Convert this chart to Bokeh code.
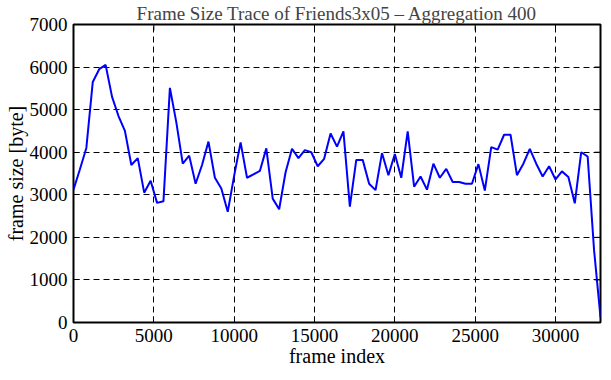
import math
from bokeh.plotting import figure
from bokeh.models import FixedTicker, Range1d, BasicTickFormatter, Title
from bokeh.embed import file_html
from bokeh.resources import INLINE

# ---- data ----
step = 400
frame_size = [
    3120, 3600, 4100, 5650, 5950, 6050, 5300, 4850, 4500, 3700,
    3860, 3050, 3330, 2810, 2850, 5510, 4700, 3730, 3920, 3260,
    3700, 4250, 3400, 3150, 2600, 3450, 4230, 3400, 3480, 3560,
    4090, 2910, 2660, 3530, 4080, 3860, 4050, 4000, 3670, 3845,
    4440, 4130, 4490, 2720, 3820, 3820, 3260, 3110, 3980, 3460,
    3960, 3400, 4490, 3190, 3430, 3120, 3730, 3400, 3610, 3300,
    3300, 3260, 3260, 3720, 3100, 4120, 4060, 4410, 4410, 3460,
    3730, 4080, 3730, 3430, 3670, 3360, 3550, 3420, 2800, 4000,
    3900, 1700, 120,
]
frame_index = [i * step for i in range(len(frame_size))]
x_ticks = [0, 5000, 10000, 15000, 20000, 25000, 30000]
y_ticks = [0, 1000, 2000, 3000, 4000, 5000, 6000, 7000]
x_max = 32800
y_max = 7000

FONT = "Liberation Serif"

p = figure(
    width=603, height=372,
    output_backend="svg", toolbar_location=None,
    x_range=Range1d(0, x_max), y_range=Range1d(0, y_max),
    min_border_left=73, min_border_right=3, min_border_top=22, min_border_bottom=50,
)
p.title = Title(text="Frame Size Trace of Friends3x05 \u2013 Aggregation 400",
                align="center", text_font=FONT, text_font_size="19px",
                text_font_style="normal", standoff=1, offset=0)

# dashed grid
for g, ticks in ((p.xgrid, x_ticks), (p.ygrid, y_ticks)):
    g.ticker = FixedTicker(ticks=ticks)
    g.grid_line_color = "black"
    g.grid_line_width = 1
    g.grid_line_dash = "6 4"

p.line(frame_index, frame_size, line_color="#0000ff", line_width=2)

# mirrored inward ticks on top and right border (dash markers clipped by frame)
p.scatter(x_ticks, [y_max] * len(x_ticks), marker="dash", size=12,
          angle=math.pi / 2, line_color="black", line_width=1)
p.scatter([x_max] * len(y_ticks), y_ticks, marker="dash", size=12,
          line_color="black", line_width=1)

p.outline_line_color = "black"
p.outline_line_width = 2
p.background_fill_color = "white"
p.border_fill_color = "white"

for ax, ticks in ((p.xaxis[0], x_ticks), (p.yaxis[0], y_ticks)):
    ax.ticker = FixedTicker(ticks=ticks)
    ax.formatter = BasicTickFormatter(use_scientific=False)
    ax.axis_line_color = None
    ax.major_tick_in = 6
    ax.major_tick_out = 0
    ax.major_tick_line_width = 1
    ax.minor_tick_line_color = None
    ax.major_label_text_font = FONT
    ax.major_label_text_font_size = "19px"
    ax.major_label_text_color = "black"
    ax.axis_label_text_font = FONT
    ax.axis_label_text_font_style = "normal"
    ax.axis_label_text_color = "black"
    ax.axis_label_standoff = 0

p.xaxis.axis_label = "frame index"
p.yaxis.axis_label = "frame size [byte]"
p.xaxis.axis_label_text_font_size = "20px"
p.yaxis.axis_label_text_font_size = "20px"
p.xaxis.major_label_standoff = 6
p.yaxis.major_label_standoff = 6

open("out.html", "w").write(file_html(p, INLINE))
